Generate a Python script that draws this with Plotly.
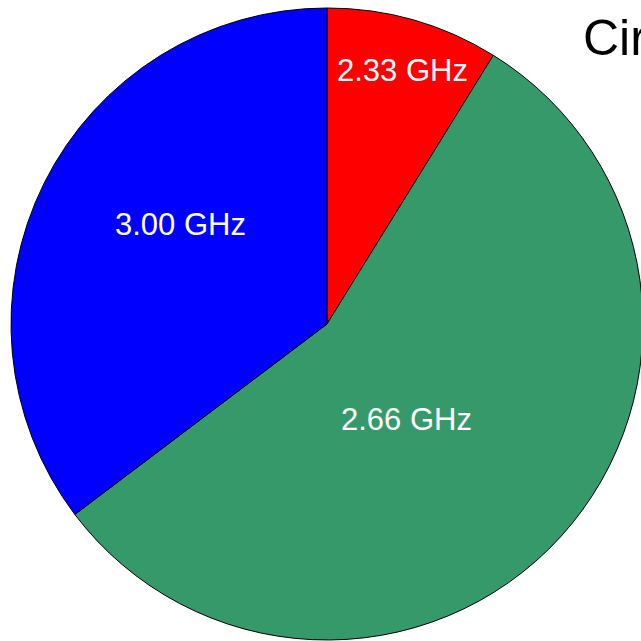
import math
import plotly.graph_objects as go

# ---- data ----
labels = ["2.33 GHz", "2.66 GHz", "3.00 GHz"]
values = [3, 19, 12]
title_text = "Circle Chart"

# ---- style ----
colors = ["#FF0000", "#36996A", "#0000FF"]
label_radius_frac = [0.838, 0.395, 0.56]   # label distance from centre, as fraction of radius
label_angle_shift = [0.6, 7.9, 7.9]         # degrees added to slice mid-angle
FONT = "Liberation Sans, Arial, sans-serif"

W = H = 660                 # page is clipped to 641x641 window
cx, cy, r = 327.0, 324.0, 316.0   # pie centre / radius in pixels (from top-left)

fig = go.Figure(go.Pie(
    labels=labels,
    values=values,
    textinfo="none",
    sort=False,
    direction="clockwise",
    rotation=0,
    marker=dict(colors=colors, line=dict(color="black", width=1)),
    showlegend=False,
    hoverinfo="label+value",
    domain=dict(x=[(cx - r) / W, (cx + r) / W], y=[(H - cy - r) / H, (H - cy + r) / H]),
))

# slice labels placed from the cumulative values
total = sum(values)
cum = 0.0
annotations = []
for lab, v, rf, sh in zip(labels, values, label_radius_frac, label_angle_shift):
    mid = (cum + v / 2) / total * 360.0 + sh
    cum += v
    a = math.radians(mid)
    px = cx + rf * r * math.sin(a)
    py = cy - rf * r * math.cos(a)
    annotations.append(dict(
        text=lab, x=px / W, y=1 - py / H, xref="paper", yref="paper",
        xanchor="center", yanchor="middle", showarrow=False,
        font=dict(family=FONT, size=31, color="white"),
    ))

fig.update_layout(
    width=W, height=H,
    margin=dict(l=0, r=0, t=0, b=0),
    paper_bgcolor="white",
    plot_bgcolor="white",
    title=dict(
        text=title_text,
        x=583 / W, xanchor="left", xref="container",
        y=1 - 20 / H, yanchor="top", yref="container",
        font=dict(family=FONT, size=50, color="black"),
    ),
    annotations=annotations,
)

fig.write_html(
    "out.html",
    config=dict(displayModeBar=False),
    post_script="document.body.style.margin='0';document.body.style.overflow='hidden';document.documentElement.style.overflow='hidden';",
)
